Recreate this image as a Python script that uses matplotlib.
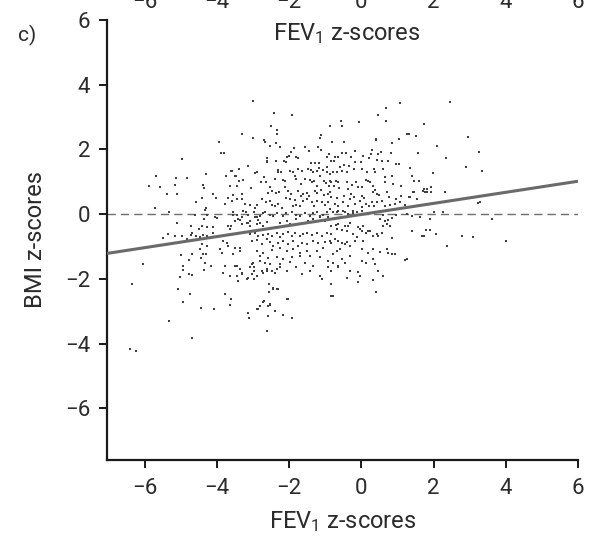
import numpy as np
import matplotlib
matplotlib.use('Agg')
from matplotlib import pyplot as plt
from matplotlib.transforms import blended_transform_factory

plt.rcParams['font.family'] = ['Roboto', 'DejaVu Sans']
plt.rcParams['mathtext.fontset'] = 'custom'
plt.rcParams['mathtext.rm'] = 'Roboto'
plt.rcParams['mathtext.it'] = 'Roboto'

# (FEV1 z-score, BMI z-score) pairs, grouped by area
upper_centre_left = [
    (-2.51, 2.72), (-3.30, 2.47), (-2.35, 2.60), (-2.35, 2.49), (-3.00, 2.36), (-2.70, 2.29), (-2.66, 2.22),
    (-2.52, 2.11), (-2.38, 2.20), (-2.26, 2.07), (-1.13, 2.46), (-1.15, 2.36), (-1.20, 2.07), (-1.13, 1.98),
    (-1.56, 2.07), (-1.45, 1.96), (-1.86, 2.05), (-1.95, 1.93), (-2.00, 1.80), (-2.06, 1.76), (-1.81, 1.77),
    (-1.76, 1.72), (-2.63, 1.74), (-2.62, 1.64), (-2.63, 1.60), (-2.14, 1.64), (-2.10, 1.62), (-2.37, 1.63),
    (-1.41, 1.58), (-1.28, 1.58), (-1.18, 1.58), (-0.96, 1.76), (-0.91, 1.87),
    (-3.59, 1.33), (-3.39, 1.39), (-3.15, 1.48), (-2.95, 1.28), (-2.88, 1.31), (-2.30, 1.37), (-2.24, 1.29),
    (-2.31, 1.29), (-1.98, 1.34), (-1.89, 1.29), (-1.75, 1.39), (-1.66, 1.32), (-1.49, 1.39), (-1.41, 1.36),
    (-1.35, 1.29), (-1.24, 1.34), (-1.17, 1.41), (-1.06, 1.36), (-0.96, 1.46), (-0.95, 1.29),
    (-3.50, 1.19), (-3.39, 1.03), (-3.28, 1.06), (-2.70, 1.15), (-2.65, 0.98), (-2.79, 0.98), (-2.40, 1.08),
    (-2.17, 1.05), (-2.12, 1.01), (-1.84, 1.17), (-1.80, 1.08), (-1.67, 0.93), (-1.57, 1.08), (-1.43, 1.06),
    (-1.32, 1.03), (-1.36, 0.98), (-1.22, 0.88), (-1.14, 1.19), (-1.04, 1.03), (-0.99, 0.96), (-0.90, 0.88),
    (-3.64, 0.88), (-3.46, 0.88), (-3.06, 0.80), (-3.32, 0.61), (-2.53, 0.83), (-2.60, 0.65), (-2.47, 0.70),
    (-2.38, 0.65), (-2.28, 0.67), (-2.12, 0.83), (-2.04, 0.72), (-1.95, 0.62), (-1.75, 0.72), (-1.68, 0.57),
    (-1.61, 0.62), (-1.52, 0.65), (-1.45, 0.55), (-1.29, 0.72), (-1.22, 0.65), (-1.12, 0.75), (-1.03, 0.59),
    (-0.92, 0.62),
    (-3.59, 0.41), (-3.44, 0.46), (-3.31, 0.46), (-3.22, 0.32), (-3.09, 0.28), (-2.96, 0.18), (-2.88, 0.28),
    (-2.76, 0.46), (-2.65, 0.36), (-2.53, 0.41), (-2.49, 0.28), (-2.40, 0.24), (-2.30, 0.31), (-2.21, 0.18),
    (-2.09, 0.49), (-1.98, 0.46), (-1.84, 0.43), (-1.80, 0.28), (-1.89, 0.24), (-1.70, 0.24), (-1.61, 0.41),
    (-1.50, 0.46), (-1.38, 0.38), (-1.32, 0.26), (-1.22, 0.41), (-1.10, 0.36), (-1.01, 0.28), (-0.94, 0.38),
    (-3.55, 0.05), (-3.46, -0.04), (-3.28, 0.10), (-3.14, -0.03), (-2.99, 0.05), (-2.81, -0.06), (-2.67, 0.08),
    (-2.53, -0.02), (-2.35, 0.04), (-2.17, -0.05), (-1.93, 0.08), (-1.80, -0.02), (-1.56, 0.03), (-1.43, -0.06),
    (-1.24, 0.08), (-1.06, -0.03), (-0.96, 0.06),
]

upper_centre_right = [
    (-0.57, 2.88), (-0.06, 2.86), (0.67, 2.89), (1.73, 2.79), (1.27, 2.48), (1.32, 2.48), (1.51, 2.42),
    (-0.82, 2.24), (0.40, 2.32), (1.05, 2.32), (0.85, 2.19), (-0.48, 2.24), (-0.18, 1.95), (-0.55, 1.89),
    (-0.43, 1.89), (0.29, 1.98), (0.27, 1.85), (0.54, 1.91), (0.47, 1.87), (0.82, 1.89), (1.57, 1.89),
    (-0.73, 1.77), (-0.64, 1.77), (-0.83, 1.65), (-0.76, 1.65), (-0.30, 1.76), (-0.18, 1.62), (0.05, 1.79),
    (0.21, 1.73), (0.42, 1.68), (0.56, 1.64), (0.74, 1.64), (0.96, 1.55), (1.05, 1.55), (1.34, 1.41),
    (-0.47, 1.52), (-0.60, 1.45), (-0.54, 1.34), (-0.69, 1.31), (-0.78, 1.29), (-0.87, 1.24), (-0.34, 1.50),
    (-0.21, 1.39), (-0.41, 1.31), (-0.01, 1.62), (0.02, 1.39), (0.16, 1.29), (0.35, 1.39), (0.38, 1.31),
    (0.60, 1.39), (0.66, 1.14), (0.65, 0.98), (0.88, 0.93), (0.86, 1.19), (1.11, 0.88), (1.39, 1.17),
    (1.60, 1.03), (1.73, 0.77), (1.82, 0.69),
    (-0.87, 1.03), (-0.83, 1.00), (-0.71, 1.03), (-0.64, 1.00), (-0.76, 0.88), (-0.62, 0.80), (-0.39, 1.00),
    (-0.37, 0.77), (-0.26, 0.90), (-0.15, 0.98), (-0.09, 0.83), (0.01, 0.83), (0.14, 1.06), (0.19, 1.03),
    (0.24, 0.98), (0.31, 0.88), (0.37, 0.75), (0.33, 0.67), (0.42, 0.62), (0.49, 0.59), (0.70, 0.67),
    (0.76, 0.52), (0.97, 0.46), (1.11, 0.55), (1.32, 0.52),
    (-0.87, 0.69), (-0.83, 0.52), (-0.69, 0.49), (-0.73, 0.31), (-0.64, 0.24), (-0.87, 0.15), (-0.52, 0.38),
    (-0.48, 0.55), (-0.30, 0.62), (-0.32, 0.46), (-0.21, 0.52), (-0.18, 0.31), (-0.04, 0.41), (0.02, 0.55),
    (0.08, 0.49), (0.14, 0.31), (0.22, 0.24), (0.28, 0.38), (0.01, 0.21), (-0.23, 0.10), (-0.37, 0.24),
    (-0.50, 0.10), (-0.69, 0.05), (0.35, 0.24), (0.42, 0.36), (0.56, 0.41), (0.65, 0.24), (0.79, 0.28),
    (0.93, 0.31), (1.07, 0.36), (1.20, 0.28), (1.53, 0.46), (1.71, 0.72), (1.82, 0.77), (1.77, 0.67),
    (-2.42, 3.12), (-1.91, 3.07), (-0.87, 2.72), (-0.55, 2.73), (0.45, 3.07), (0.68, 3.28), (1.07, 3.44),
    (0.39, 2.30),
]

upper_left = [
    (-3.01, 3.51), (-3.95, 2.22), (-3.90, 1.89), (-3.81, 1.89), (-4.98, 1.70), (-4.31, 1.23), (-5.70, 1.19),
    (-5.15, 1.11), (-4.84, 1.11), (-5.89, 0.88), (-5.58, 0.85), (-5.17, 0.90), (-5.10, 0.61), (-5.40, 0.61),
    (-4.38, 0.90), (-4.36, 0.80), (-3.62, 1.34), (-3.76, 1.19), (-3.48, 1.17), (-4.43, 0.50), (-4.59, 0.38),
    (-4.31, 0.18), (-4.34, 0.13), (-4.12, 0.61), (-4.03, 0.50), (-3.78, 0.31), (-3.71, 0.50), (-3.57, 0.59),
    (-5.71, 0.19), (-5.33, 0.08), (-5.10, -0.26), (-4.61, -0.03), (-4.29, -0.03), (-4.06, -0.08),
    (-4.00, -0.12), (-3.37, -0.18), (-3.32, -0.10), (-3.18, -0.26), (-3.09, -0.21), (-2.90, -0.10),
    (-2.86, -0.19),
]

right_side = [
    (2.45, 3.48), (2.96, 2.39), (2.08, 2.10), (3.26, 1.93), (2.34, 1.73), (2.89, 1.46), (3.35, 1.33),
    (1.97, 1.28), (1.47, 1.03), (1.93, 0.84), (1.42, 0.67), (1.47, 0.67), (1.34, 0.54), (1.92, 0.67),
    (2.31, 0.67), (3.24, 0.35), (3.28, 0.37), (1.39, 0.23), (2.02, 0.08), (2.25, 0.06), (1.40, -0.07),
    (1.62, -0.10), (1.90, -0.15), (3.61, -0.15), (1.39, -0.52), (1.78, -0.49), (1.90, -0.49), (2.06, -0.62),
    (1.67, -0.69), (1.73, -0.69), (2.80, -0.68), (3.10, -0.71), (4.00, -0.83), (2.38, -1.00),
]

lower_centre = [
    (-0.78, 0.05), (-0.64, 0.10), (-0.46, 0.05), (-0.37, 0.00), (-0.24, 0.03), (-0.13, 0.07), (0.01, 0.10),
    (0.60, -0.03), (0.97, -0.03), (1.25, 0.00),
    (-0.83, -0.36), (-0.71, -0.34), (-0.64, -0.31), (-0.69, -0.46), (-0.55, -0.49), (-0.46, -0.36),
    (-0.37, -0.38), (-0.32, -0.26), (-0.41, -0.52), (-0.23, -0.62), (-0.09, -0.41), (-0.04, -0.46),
    (0.01, -0.52), (0.05, -0.36), (0.19, -0.52), (0.51, -0.15), (0.65, -0.21), (0.74, -0.18), (0.84, -0.13),
    (0.70, -0.31), (0.60, -0.38), (0.79, -0.36),
    (-0.83, -0.62), (-0.73, -0.77), (-0.83, -0.88), (-0.64, -0.83), (-0.55, -0.88), (-0.46, -0.93),
    (-0.41, -0.86), (-0.32, -0.98), (-0.18, -0.83), (-0.13, -0.72), (0.03, -0.83), (0.14, -0.57),
    (0.24, -0.52), (0.33, -0.67), (0.42, -0.62), (0.47, -0.69), (0.56, -0.57), (0.84, -0.75),
    (-0.78, -1.24), (-0.69, -1.14), (-0.60, -1.08), (-0.55, -1.39), (-0.46, -1.50), (-0.64, -1.60),
    (-0.78, -1.50), (-0.32, -1.29), (0.01, -1.08), (0.19, -1.19), (0.33, -1.08), (0.51, -1.17),
    (0.70, -1.08), (0.74, -1.19), (0.84, -1.24), (0.93, -1.24), (1.20, -1.41), (1.27, -1.39),
    (0.01, -1.45), (0.12, -1.50), (0.33, -1.39), (0.37, -1.55),
    (-0.83, -1.76), (-0.64, -1.62), (-0.32, -1.76), (-0.09, -1.79), (0.47, -1.76), (0.60, -1.91),
    (0.33, -2.03), (-0.04, -1.91), (-0.41, -1.96), (-0.83, -2.17), (-0.09, -2.11), (0.40, -2.41),
    (-0.83, -2.53),
]

lower_centre_left = [
    (-3.55, -0.02), (-3.20, 0.06), (-2.95, -0.08), (-2.72, 0.02), (-2.44, -0.06), (-2.08, 0.03),
    (-1.70, -0.05), (-1.34, 0.04), (-1.15, -0.07),
    (-3.42, -0.15), (-3.32, -0.31), (-3.14, -0.26), (-3.09, -0.36), (-2.90, -0.31), (-2.81, -0.26),
    (-2.72, -0.36), (-2.63, -0.24), (-2.26, -0.26), (-2.07, -0.21), (-1.98, -0.31), (-1.80, -0.15),
    (-1.66, -0.26), (-1.47, -0.21), (-1.34, -0.15), (-1.15, -0.10), (-1.01, -0.21), (-0.92, -0.10),
    (-3.50, -0.21), (-3.60, -0.36),
    (-3.55, -0.62), (-3.37, -0.59), (-3.09, -0.62), (-2.95, -0.57), (-2.86, -0.69), (-2.72, -0.65),
    (-2.58, -0.62), (-2.49, -0.69), (-2.35, -0.59), (-2.26, -0.72), (-2.17, -0.62), (-2.03, -0.55),
    (-1.93, -0.69), (-1.84, -0.59), (-1.70, -0.67), (-1.61, -0.62), (-1.52, -0.57), (-1.38, -0.65),
    (-1.24, -0.59), (-1.10, -0.67), (-0.96, -0.59),
    (-3.04, -0.83), (-2.90, -0.80), (-2.76, -0.93), (-2.63, -0.77), (-2.53, -0.86), (-2.44, -0.98),
    (-2.30, -0.88), (-2.17, -0.83), (-2.03, -0.93), (-1.89, -0.83), (-1.75, -0.98), (-1.66, -0.88),
    (-1.52, -0.93), (-1.34, -0.83), (-1.20, -0.88), (-1.01, -0.86), (-0.87, -0.83),
    (-3.37, -1.06), (-2.90, -1.14), (-2.72, -1.19), (-2.49, -1.11), (-2.26, -1.06), (-2.07, -1.14),
    (-1.89, -1.08), (-1.70, -1.19), (-1.52, -1.14), (-1.24, -1.14), (-1.06, -1.06),
    (-3.55, -1.24), (-2.81, -1.29), (-2.58, -1.37), (-2.35, -1.34), (-2.17, -1.39), (-1.93, -1.34),
    (-1.70, -1.29), (-1.43, -1.29), (-1.15, -1.34), (-0.92, -1.45), (-1.56, -1.50), (-1.98, -1.48),
    (-2.26, -1.55), (-2.53, -1.55),
    (-3.46, -1.60), (-3.32, -1.81), (-3.09, -1.65), (-2.99, -1.76), (-3.01, -1.50), (-2.76, -1.76),
    (-2.72, -1.81), (-2.63, -1.76), (-2.35, -1.70), (-2.26, -1.65), (-2.07, -1.76), (-1.80, -1.65),
    (-1.66, -1.86), (-1.43, -1.76), (-1.34, -1.60), (-1.15, -1.91), (-1.10, -2.01), (-0.92, -1.62),
    (-3.18, -2.01), (-2.99, -2.01), (-2.55, -2.17), (-2.44, -2.32), (-2.35, -2.32), (-2.55, -2.42),
    (-2.03, -2.63), (-3.60, -2.63), (-2.72, -2.71), (-2.58, -2.84), (-2.86, -2.92),
    (-2.53, -2.79), (-2.40, -2.99), (-2.18, -3.12), (-1.93, -3.22), (-2.06, -2.63), (-0.80, -2.53),
]

lower_left = [
    (-4.73, -0.36), (-4.70, -0.57), (-4.50, -0.46), (-4.43, -0.36), (-4.36, -0.15), (-4.27, -0.41),
    (-4.10, -0.41), (-5.49, -0.74), (-5.35, -0.60), (-5.17, -0.67), (-4.98, -0.67), (-4.84, -0.77),
    (-4.73, -0.64), (-4.58, -0.67), (-4.47, -0.72), (-4.38, -0.64), (-4.29, -0.67), (-4.12, -0.57),
    (-4.01, -0.72), (-3.84, -0.83), (-3.69, -0.36), (-3.64, -0.46),
    (-6.06, -1.55), (-6.37, -2.15),
    (-5.00, -1.26), (-4.70, -1.22), (-4.77, -1.42), (-4.45, -1.37), (-4.31, -1.24), (-4.34, -1.50),
    (-4.18, -1.60), (-4.36, -1.73), (-4.95, -1.60), (-4.94, -1.73), (-5.03, -1.94), (-4.77, -1.84),
    (-4.70, -1.88), (-5.09, -2.32), (-4.95, -2.71), (-4.75, -2.48), (-4.45, -2.91), (-4.08, -2.94),
    (-5.33, -3.30), (-4.70, -3.82), (-6.41, -4.16), (-6.25, -4.23),
    (-3.78, -2.48), (-3.64, -2.81), (-3.15, -3.07), (-3.11, -3.22), (-2.90, -2.94), (-2.81, -2.84),
    (-2.69, -2.70), (-2.52, -2.81), (-2.58, -3.15), (-2.61, -3.61), (-2.56, -2.17), (-2.44, -2.29),
    (-2.30, -2.32),
    (-4.47, -1.08), (-4.38, -1.22), (-4.43, -0.91), (-4.29, -0.98), (-3.92, -1.08), (-3.87, -1.19),
    (-3.73, -0.88), (-3.69, -0.98), (-3.50, -1.05), (-3.37, -1.14),
    (-3.78, -1.60), (-3.50, -1.60), (-3.37, -1.70), (-3.64, -1.91), (-3.46, -1.91), (-3.41, -2.06),
    (-3.83, -1.81), (-3.32, -1.86), (-3.14, -1.96), (-3.04, -1.86), (-2.90, -1.91), (-2.99, -1.65),
    (-3.04, -1.55), (-2.81, -1.45), (-2.67, -1.50), (-2.63, -1.70), (-2.49, -1.76), (-2.40, -1.81),
]

# regression line
fit_slope = 0.171
fit_intercept = -0.01

x_ticks = [-6, -4, -2, 0, 2, 4, 6]
y_ticks = [-6, -4, -2, 0, 2, 4, 6]

groups = [upper_centre_left, upper_centre_right, upper_left, right_side,
          lower_centre, lower_centre_left, lower_left]
pts = np.array([p for g in groups for p in g])
fev1 = pts[:, 0]
bmi = pts[:, 1]

text_col = '#2b2b2b'
fig = plt.figure(figsize=(5.93, 5.39), dpi=100)
ax = fig.add_axes([0.1804, 0.1466, 0.7943, 0.8163])

ax.axhline(0, color='#6e6e6e', lw=1.0, dashes=(6, 3.6), zorder=1)
ax.plot(fev1, bmi, 's', ms=2.1, mew=0, color='#404040', zorder=2)
xl = np.array([-7.05, 6.0])
ax.plot(xl, fit_slope * xl + fit_intercept, color='#6a6a6a', lw=2.2, solid_capstyle='butt', zorder=3)

ax.set_xlim(-7.05, 6.0)
ax.set_ylim(-7.6, 6.0)
ax.set_xticks(x_ticks)
ax.set_yticks(y_ticks)
for s in ['top', 'right']:
    ax.spines[s].set_visible(False)
for s in ['left', 'bottom']:
    ax.spines[s].set_linewidth(1.6)
    ax.spines[s].set_color('#1a1a1a')
ax.tick_params(direction='out', length=6, width=1.4, color='#1a1a1a',
               labelsize=16, labelcolor=text_col)
ax.tick_params(axis='x', pad=7)
ax.tick_params(axis='y', pad=6)
ax.set_xlabel('FEV$_1$ z-scores', fontsize=17, color=text_col, labelpad=7)
ax.set_ylabel('BMI z-scores', fontsize=17, color=text_col, labelpad=13)

# remains of the panel above (cut off at the top edge)
tr = blended_transform_factory(ax.transData, fig.transFigure)
for t in x_ticks:
    ax.text(t, 0.986, str(t).replace('-', '\u2212'), transform=tr, ha='center', va='baseline',
            fontsize=16, color=text_col, clip_on=False)
fig.text(0.585, 0.938, 'FEV$_1$ z-scores', ha='center', va='center', fontsize=17, color=text_col)
fig.text(0.045, 0.935, 'c)', ha='center', va='center', fontsize=15, color=text_col)

fig.savefig('out.png', dpi=100)
